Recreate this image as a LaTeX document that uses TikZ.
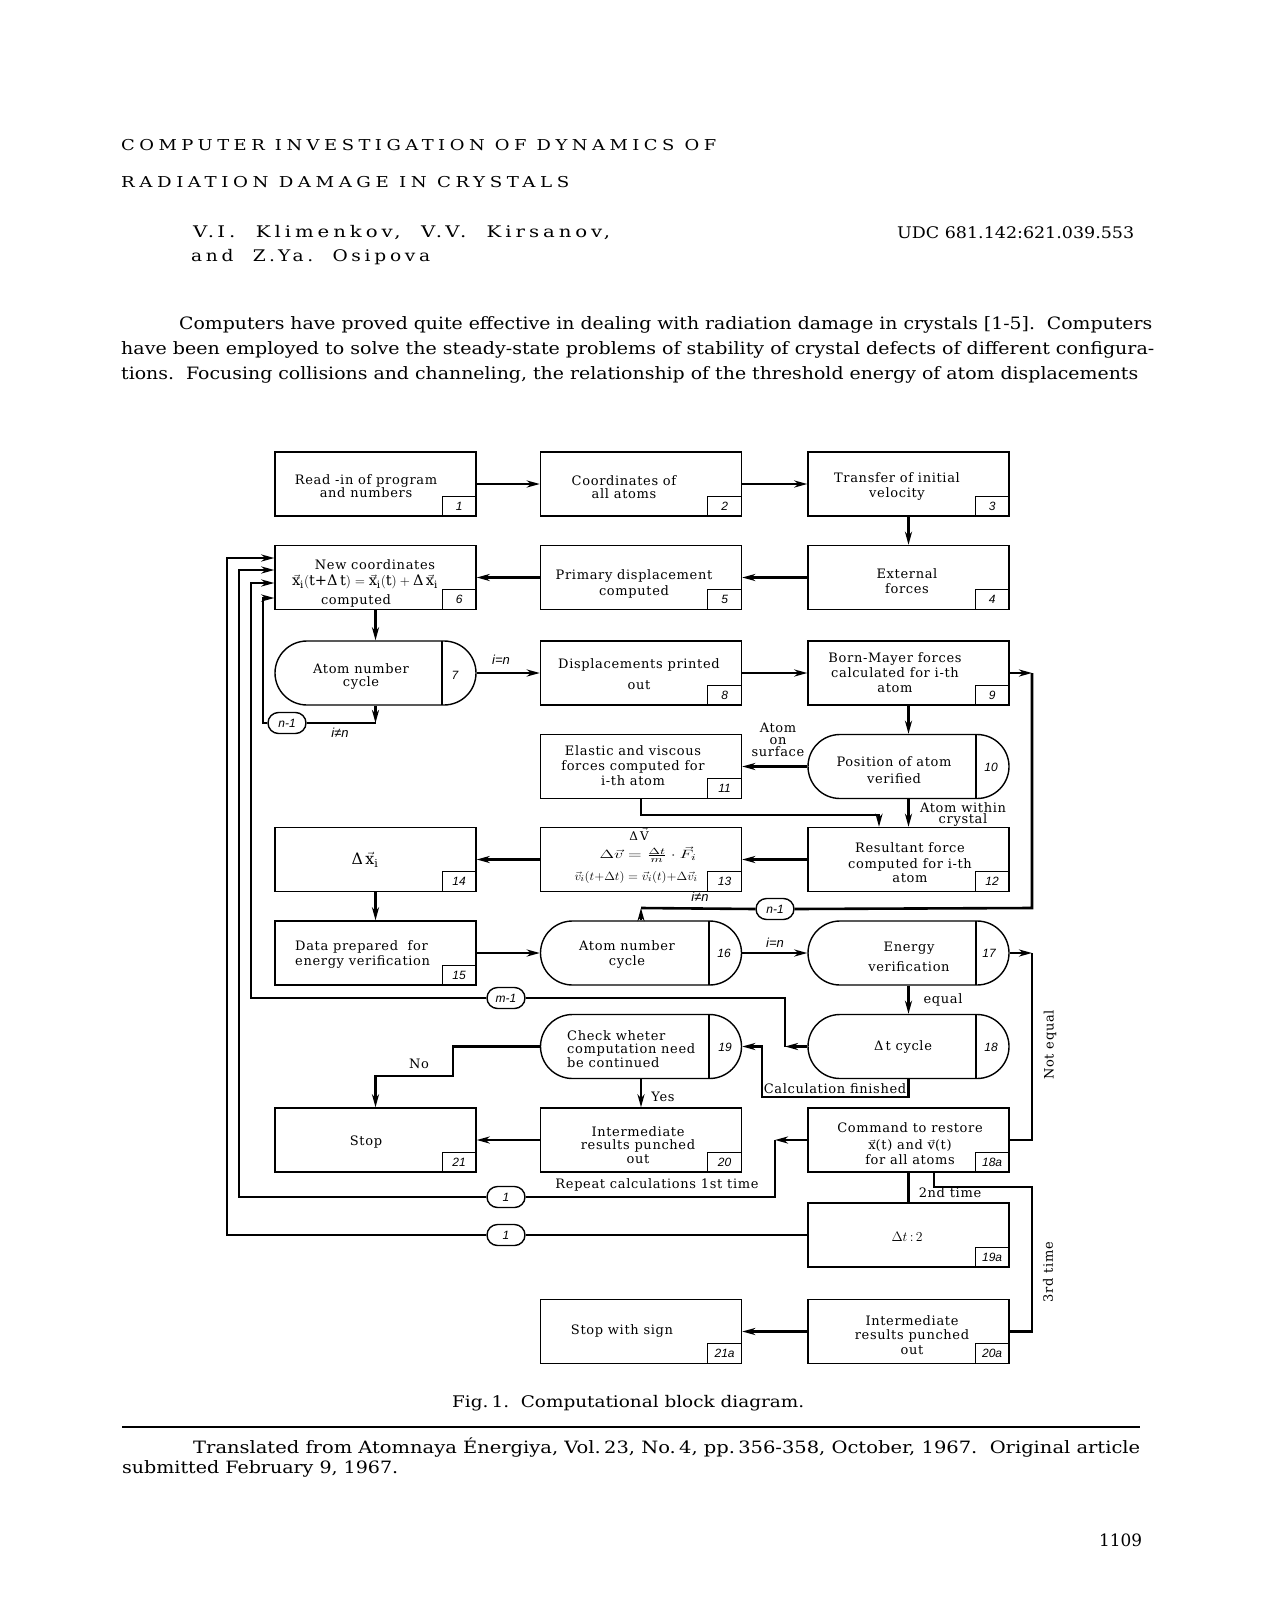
\documentclass[tikz,border=0pt]{standalone}
\usepackage{fontspec}
\usepackage{amsmath}
\usepackage{graphicx}
\setmainfont{DejaVu Serif}
\setsansfont{Liberation Sans}
\usetikzlibrary{arrows.meta,shapes.misc}
\newcommand{\fw}[2]{\resizebox{#1}{\height}{#2}}
\newcommand{\uw}[2]{\resizebox{#1}{!}{#2}}
\newcommand{\bxf}{\fontsize{13}{14}\selectfont\addfontfeatures{LetterSpace=5}}
\newcommand{\nbf}{\sffamily\itshape\fontsize{12}{12}\selectfont}
\newcommand{\lbf}{\sffamily\itshape\fontsize{13}{13}\selectfont}
\newcommand{\bodyf}{\fontsize{17}{17}\selectfont}
\newcommand{\vx}{\vec{\text{x}}}
\begin{document}
\begin{tikzpicture}[x=1pt,y=-1pt,
  blk/.style={draw,line width=1.4pt,minimum width=201pt,minimum height=64pt,inner sep=0pt},
  stad/.style={draw,line width=1.4pt,rounded rectangle,minimum width=201pt,minimum height=64pt,inner sep=0pt},
  numbox/.style={draw,line width=1.1pt,minimum width=34pt,minimum height=20pt,inner sep=0pt,anchor=south east,font=\nbf},
  numtxt/.style={font=\nbf,inner sep=0pt},
  lbl/.style={font=\bxf,align=center,inner sep=0pt},
  lbll/.style={font=\bxf,align=left,inner sep=0pt,anchor=west},
  conn/.style={line width=2.6pt},
  arr/.style={line width=2.6pt,-{Stealth[length=13pt,width=7pt,inset=4pt]}},
  tag/.style={draw,line width=1.4pt,rounded rectangle,minimum width=40pt,minimum height=21pt,inner sep=1pt,font=\nbf},
  txt/.style={inner sep=0pt,anchor=west},
  divl/.style={line width=1.4pt},
  ilab/.style={inner sep=0pt,font=\lbf},
]
\useasboundingbox[fill=white] (0,0) rectangle (1261,1613);

% ---------- header text ----------
\node[txt] (title1) at (121,145) {\fw{595pt}{\fontsize{15}{15}\selectfont\addfontfeatures{LetterSpace=25}COMPUTER INVESTIGATION OF DYNAMICS OF}};
\node[txt] (title2) at (121,182) {\fw{448pt}{\fontsize{15}{15}\selectfont\addfontfeatures{LetterSpace=25}RADIATION DAMAGE IN CRYSTALS}};
\node[txt] (auth1) at (193,233) {\fw{417pt}{\fontsize{16}{16}\selectfont\addfontfeatures{LetterSpace=20}V.\,I.\ \ Klimenkov,\ \ V.\,V.\ \ Kirsanov,}};
\node[txt] (auth2) at (191,257) {\fw{239pt}{\fontsize{16}{16}\selectfont\addfontfeatures{LetterSpace=20}and\ \ Z.\,Ya.\ \ Osipova}};
\node[txt] (udc) at (897,233) {\fw{237pt}{\fontsize{16}{16}\selectfont UDC 681.142:621.039.553}};
\node[txt] (body1) at (179,325) {\fw{973pt}{\bodyf Computers have proved quite effective in dealing with radiation damage in crystals [1-5].\ \ Computers}};
\node[txt] (body2) at (121,350) {\fw{1033pt}{\bodyf have been employed to solve the steady-state problems of stability of crystal defects of different configura-}};
\node[txt] (body3) at (121,375) {\fw{1017pt}{\bodyf tions.\ \ Focusing collisions and channeling, the relationship of the threshold energy of atom displacements}};

% ---------- boxes ----------
\node[blk] (n1) at (375.5,484) {};
\node[blk] (n2) at (641,484) {};
\node[blk] (n3) at (908.5,484) {};
\node[blk] (n6) at (375.5,577.5) {};
\node[blk] (n5) at (641,577.5) {};
\node[blk] (n4) at (908.5,577.5) {};
\node[stad] (n7) at (375.5,673) {};
\node[blk] (n8) at (641,673) {};
\node[blk] (n9) at (908.5,673) {};
\node[blk] (n11) at (641,766.5) {};
\node[stad] (n10) at (908.5,766.5) {};
\node[blk] (n14) at (375.5,859.5) {};
\node[blk] (n13) at (641,859.5) {};
\node[blk] (n12) at (908.5,859.5) {};
\node[blk] (n15) at (375.5,953) {};
\node[stad] (n16) at (641,953) {};
\node[stad] (n17) at (908.5,953) {};
\node[stad] (n19) at (641,1046.5) {};
\node[stad] (n18) at (908.5,1046.5) {};
\node[blk] (n21) at (375.5,1140) {};
\node[blk] (n20) at (641,1140) {};
\node[blk] (n18a) at (908.5,1140) {};
\node[blk] (n19a) at (908.5,1235) {};
\node[blk] (n21a) at (641,1331.5) {};
\node[blk] (n20a) at (908.5,1331.5) {};

% stadium dividers
\draw[divl] (442,641) -- (442,705);
\draw[divl] (976,734.5) -- (976,798.5);
\draw[divl] (709,921) -- (709,985);
\draw[divl] (976,921) -- (976,985);
\draw[divl] (709,1014.5) -- (709,1078.5);
\draw[divl] (976,1014.5) -- (976,1078.5);

% number boxes
\node[numbox] (k1) at (n1.south east) {1};
\node[numbox] (k2) at (n2.south east) {2};
\node[numbox] (k3) at (n3.south east) {3};
\node[numbox] (k4) at (n4.south east) {4};
\node[numbox] (k5) at (n5.south east) {5};
\node[numbox] (k6) at (n6.south east) {6};
\node[numbox] (k8) at (n8.south east) {8};
\node[numbox] (k9) at (n9.south east) {9};
\node[numbox] (k11) at (n11.south east) {11};
\node[numbox] (k12) at (n12.south east) {12};
\node[numbox] (k13) at (n13.south east) {13};
\node[numbox] (k14) at (n14.south east) {14};
\node[numbox] (k15) at (n15.south east) {15};
\node[numbox] (k20) at (n20.south east) {20};
\node[numbox] (k21) at (n21.south east) {21};
\node[numbox] (k18a) at (n18a.south east) {18a};
\node[numbox] (k19a) at (n19a.south east) {19a};
\node[numbox] (k20a) at (n20a.south east) {20a};
\node[numbox] (k21a) at (n21a.south east) {21a};
\node[numtxt] (k7) at (455,675) {7};
\node[numtxt] (k10) at (991,767) {10};
\node[numtxt] (k16) at (724,953) {16};
\node[numtxt] (k17) at (989,953) {17};
\node[numtxt] (k18) at (991,1047) {18};
\node[numtxt] (k19) at (725,1047) {19};

% box texts
\node[lbl] (t1) at (366,486) {Read -in of program\\[-1pt]and numbers};
\node[lbl] (t2) at (624,487) {Coordinates of\\[-1pt]all atoms};
\node[lbl] (t3) at (897,487) {Transfer of initial\\[1pt]velocity};
\node[lbl] (t4) at (907,581) {External\\[1pt]forces};
\node[lbl] (t5) at (634,584) {Primary displacement\\[2pt]computed};
\node[lbl] (t6a) at (375,565) {New coordinates};
\node[inner sep=0pt] (t6b) at (365,582) {\uw{146pt}{\fontsize{13}{13}\selectfont$\vx_{\text{i}}(\text{t+Δ\,t})=\vx_{\text{i}}(\text{t})+\text{Δ\,}\vx_{\text{i}}$}};
\node[lbl] (t6c) at (356,601) {computed};
\node[lbl] (t7) at (361,676) {Atom number\\[-1pt]cycle};
\node[lbl] (t8) at (639,674) {Displacements printed\\[7pt]out};
\node[lbl] (t9) at (895,673) {Born-Mayer forces\\[1pt]calculated for i-th\\[1pt]atom};
\node[lbl] (t10) at (894,770) {Position of atom\\[3pt]verified};
\node[lbl] (t11) at (633,766) {Elastic and viscous\\[1pt]forces computed for\\[1pt]i-th atom};
\node[lbl] (t12) at (910,863) {Resultant force\\[2pt]computed for i-th\\[0pt]atom};
\node[inner sep=0pt] (t13a) at (639,834) {\fontsize{12}{12}\selectfont Δ\,$\vec{\text{V}}$};
\node[inner sep=0pt] (t13b) at (648,855) {\fw{97pt}{\fontsize{13}{13}\selectfont$\Delta\vec{v}=\tfrac{\Delta t}{m}\cdot\vec{F}_i$}};
\node[inner sep=0pt] (t13c) at (636,877) {\fw{123pt}{\fontsize{13}{13}\selectfont$\vec{v}_i(t{+}\Delta t)=\vec{v}_i(t){+}\Delta\vec{v}_i$}};
\node[inner sep=0pt] (t14) at (365,860) {\uw{27pt}{\fontsize{13}{13}\selectfont Δ\,$\vx_{\text{i}}$}};
\node[lbll] (t15) at (295,954) {Data prepared\ \ for\\[1pt]energy verification};
\node[lbl] (t16) at (627,954) {Atom number\\[1pt]cycle};
\node[lbl] (t17) at (909,957) {Energy\\[6pt]verification};
\node[lbl] (t18) at (903,1047) {Δ\,t cycle};
\node[lbll] (t19) at (567,1049) {Check wheter\\[-0.5pt]computation need\\[-0.5pt]be continued};
\node[lbl] (t20) at (638,1145) {Intermediate\\[-0.5pt]results punched\\[-0.5pt]out};
\node[lbl] (t21) at (366,1142) {Stop};
\node[lbl] (t18a) at (910,1144) {Command to restore\\[3pt]$\vx$(t) and $\vec{\text{v}}$(t)\\[1pt]for all atoms};
\node[inner sep=0pt] (t19a) at (907,1237) {\uw{31pt}{\fontsize{13}{13}\selectfont$\Delta t\,{:}\,2$}};
\node[lbl] (t20a) at (912,1335) {Intermediate\\[0.5pt]results punched\\[0.5pt]out};
\node[lbl] (t21a) at (622,1331) {Stop with sign};

% ---------- tags ----------
\node[tag] (tagA) at (287,723) {n-1};
\node[tag] (tagR) at (775,909) {n-1};
\node[tag] (tagM) at (506,998) {m-1};
\node[tag] (tagU) at (506,1197) {1};
\node[tag] (tagL) at (506,1235) {1};

% ---------- connectors ----------
\draw[arr] (n1.east) -- (n2.west);
\draw[arr] (n2.east) -- (n3.west);
\draw[arr] (n3.south) -- (n4.north);
\draw[arr] (n4.west) -- (n5.east);
\draw[arr] (n5.west) -- (n6.east);
\draw[arr] (n6.south) -- (n7.north);
\draw[arr] (n7.east) -- (n8.west);
\draw[arr] (n8.east) -- (n9.west);
\draw[arr] (n9.south) -- (n10.north);
\draw[arr] (n10.west) -- (n11.east);
\draw[arr] (n10.south) -- (n12.north);
\coordinate (c1112) at (879,815);
\draw[arr] (n11.south) |- (c1112) -- (c1112 |- n12.north);
\draw[arr] (n12.west) -- (n13.east);
\draw[arr] (n13.west) -- (n14.east);
\draw[arr] (n14.south) -- (n15.north);
\draw[arr] (n15.east) -- (n16.west);
\draw[arr] (n16.east) -- (n17.west);
\draw[arr] (n17.south) -- (n18.north);
\coordinate (cf1) at (908.5,1097);
\coordinate (cf2) at (762,1097);
\draw[arr] (n18.south) -- (cf1) -- (cf2) |- (n19.east);
\coordinate (no1) at (453,1046.5);
\coordinate (no2) at (453,1076);
\coordinate (no3) at (375.5,1076);
\draw[arr] (n19.west) -- (no1) -- (no2) -- (no3) -- (n21.north);
\draw[arr] (n19.south) -- (n20.north);
\draw[arr] (n20.west) -- (n21.east);
\draw[conn] (n18a.south) -- (n19a.north);
\coordinate (t3a) at (934,1173);
\coordinate (t3b) at (934,1187);
\coordinate (t3c) at (1032,1187);
\draw[conn] (t3a) -- (t3b) -- (t3c) |- (n20a.east);
\draw[arr] (n20a.west) -- (n21a.east);

% n-1 loop from 7
\coordinate (a1) at (375.5,723);
\coordinate (a2) at (263,723);
\coordinate (a3) at (263,598);
\draw[arr] (n7.south) -- (a1);
\draw[conn] (a1) -- (tagA.east);
\draw[arr] (tagA.west) -- (a2) -- (a3) -- (a3 -| n6.west);
% m-1 loop from 18
\coordinate (m1) at (785,1046.5);
\coordinate (m2) at (785,998);
\coordinate (m3) at (251,998);
\coordinate (m4) at (251,583);
\draw[arr] (n18.west) -- (m1);
\draw[conn] (m1) -- (m2) -- (tagM.east);
\draw[arr] (tagM.west) -- (m3) -- (m4) -- (m4 -| n6.west);
% repeat 1st time from 18a
\coordinate (u1) at (775,1140);
\coordinate (u2) at (775,1197);
\coordinate (u3) at (239,1197);
\coordinate (u4) at (239,570);
\draw[arr] (n18a.west) -- (u1);
\draw[conn] (u1) -- (u2) -- (tagU.east);
\draw[arr] (tagU.west) -- (u3) -- (u4) -- (u4 -| n6.west);
% from 19a
\coordinate (l1) at (227,1235);
\coordinate (l2) at (227,558);
\draw[conn] (n19a.west) -- (tagL.east);
\draw[arr] (tagL.west) -- (l1) -- (l2) -- (l2 -| n6.west);
% n-1 loop from 16 to 9
\coordinate (r1) at (641,908);
\coordinate (r2) at (1032,908);
\coordinate (r3) at (1032,673);
\draw[arr] (n16.north) -- (r1);
\draw[conn] (r1) -- (tagR.west);
\draw[conn] (tagR.east) -- (r2) -- (r3);
\draw[arr] (n9.east) -- (r3);
% not equal
\coordinate (q1) at (1032,953);
\draw[arr] (n17.east) -- (q1);
\draw[conn] (q1) |- (n18a.east);

% ---------- connector labels ----------
\node[ilab] (l78) at (501,660) {i=n};
\node[ilab] (lneA) at (340,733) {i≠n};
\node[ilab] (lneB) at (700,897) {i≠n};
\node[ilab] (l1617) at (775,943) {i=n};
\node[lbl] (lsurf) at (778,740) {Atom\\[-2pt]on\\[-2pt]surface};
\node[lbl] (lwith) at (963,814) {Atom within\\[-3pt]crystal};
\node[lbl] (leq) at (943,1000) {equal};
\node[lbl] (lcalc) at (835,1089) {Calculation finished};
\node[lbl] (lyes) at (663,1097) {Yes};
\node[lbl] (lno) at (419,1064) {No};
\node[lbl] (lrep) at (657,1185) {Repeat calculations 1st time};
\node[lbl] (l2nd) at (950,1193) {2nd time};
\node[lbl,rotate=90] (l3rd) at (1048,1272) {3rd time};
\node[lbl,rotate=90] (lnoteq) at (1050,1045) {Not equal};

% ---------- footer ----------
\node[txt] (cap) at (452,1403) {\fw{352pt}{\fontsize{16}{16}\selectfont Fig.\,1.\ \ Computational block diagram.}};
\draw[line width=2.4pt] (122,1427) -- (1140,1427);
\node[txt] (foot1) at (193,1447) {\fw{947pt}{\bodyf Translated from Atomnaya Énergiya, Vol.\,23, No.\,4, pp.\,356-358, October, 1967.\ \ Original article}};
\node[txt] (foot2) at (122,1469) {\fw{276pt}{\bodyf submitted February 9, 1967.}};
\node[txt] (pgno) at (1099,1540) {\fw{43pt}{\bodyf 1109}};
\end{tikzpicture}
\end{document}
